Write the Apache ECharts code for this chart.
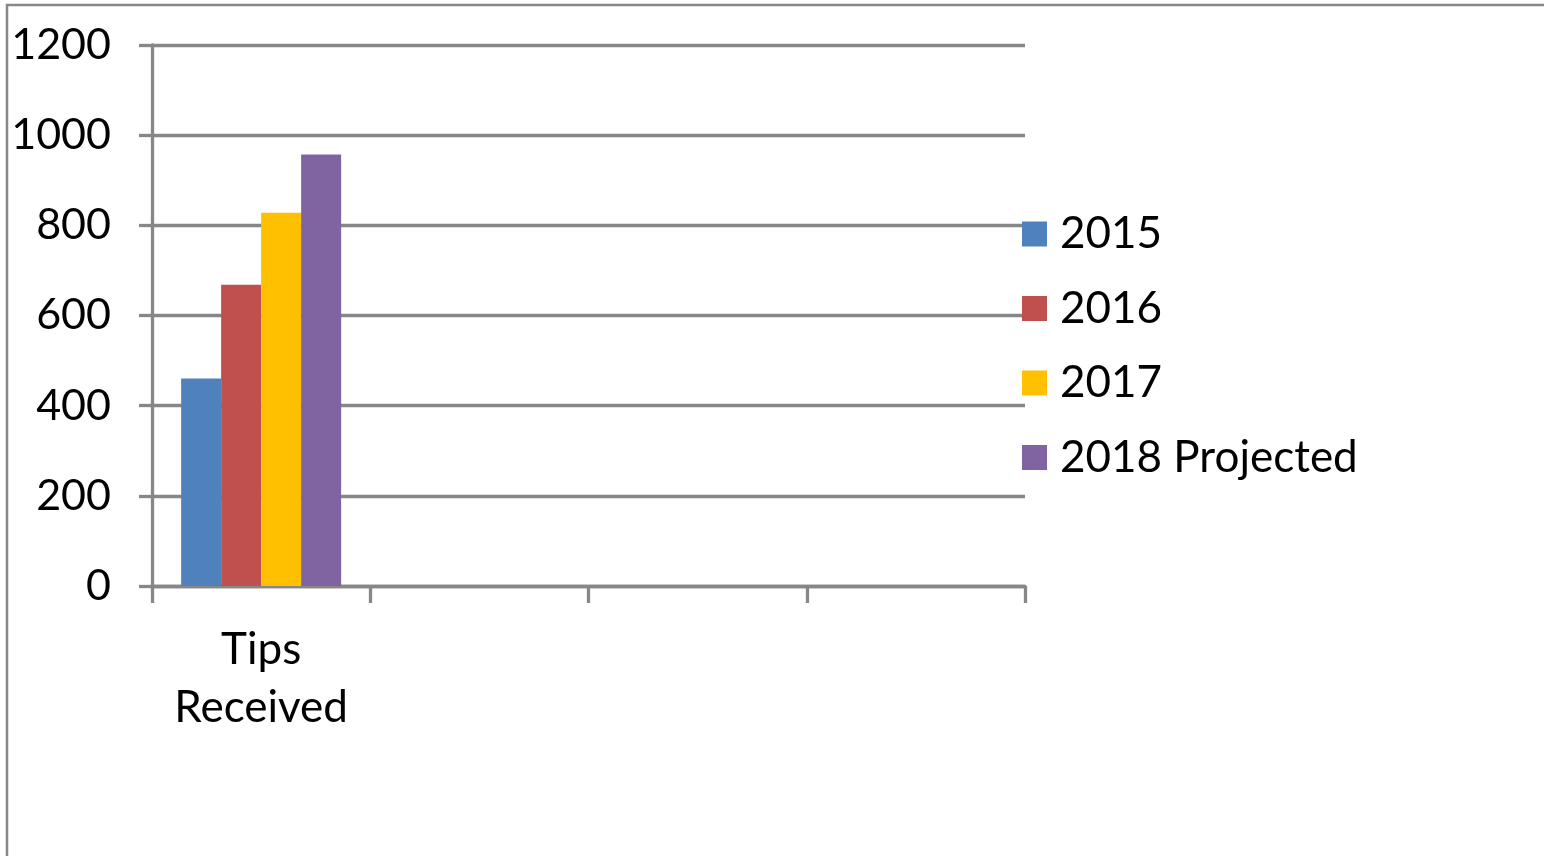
<!DOCTYPE html>
<html>
<head>
<meta charset="utf-8">
<script src="https://cdn.jsdelivr.net/npm/echarts@6/dist/echarts.min.js"></script>
<style>
html,body{margin:0;padding:0;background:#fff;}
#main{width:1544px;height:856px;}
</style>
</head>
<body>
<div id="main"></div>
<script>
const categories = ['Tips\nReceived', '', '', ''];
const seriesNames = ['2015', '2016', '2017', '2018 Projected'];
const values2015 = [460, null, null, null];
const values2016 = [668, null, null, null];
const values2017 = [828, null, null, null];
const values2018 = [957, null, null, null];
const colors = ['#4F81BD', '#C0504D', '#FFC000', '#8064A2'];
const yTicks = { min: 0, max: 1200, interval: 200 };

const seriesData = [values2015, values2016, values2017, values2018];
const fontFamily = 'Lato, "Open Sans", sans-serif';
const lineColor = '#878787';

const chart = echarts.init(document.getElementById('main'));
chart.setOption({
  animation: false,
  backgroundColor: '#fff',
  color: colors,
  graphic: [{
    type: 'rect',
    shape: { x: 7, y: 5, width: 1600, height: 900 },
    style: { fill: 'none', stroke: '#888', lineWidth: 2.5 },
    silent: true
  }],
  grid: { left: 152, top: 45, right: 519, bottom: 270, containLabel: false },
  legend: {
    orient: 'vertical',
    left: 1017,
    top: 207,
    itemWidth: 25,
    itemHeight: 25,
    itemGap: 30.5,
    icon: 'rect',
    data: seriesNames,
    textStyle: { fontFamily: fontFamily, fontSize: 44, color: '#000', lineHeight: 44, padding: [0, 0, 0, 8] }
  },
  xAxis: {
    type: 'category',
    data: categories,
    axisLine: { lineStyle: { color: lineColor, width: 3.3 } },
    axisTick: { show: true, length: 17, lineStyle: { color: lineColor, width: 3.3 }, alignWithLabel: false },
    axisLabel: { fontFamily: fontFamily, fontSize: 44, color: '#000', lineHeight: 58, margin: 35, interval: 0 },
    splitLine: { show: false }
  },
  yAxis: {
    type: 'value',
    min: yTicks.min,
    max: yTicks.max,
    interval: yTicks.interval,
    axisLine: { show: true, lineStyle: { color: lineColor, width: 3.3 } },
    axisTick: { show: true, length: 13, lineStyle: { color: lineColor, width: 3.3 } },
    axisLabel: { fontFamily: fontFamily, fontSize: 43, color: '#000', margin: 41, formatter: v => String(v) },
    splitLine: { show: true, lineStyle: { color: lineColor, width: 3.3 } }
  },
  series: seriesNames.map((name, i) => ({
    name: name,
    type: 'bar',
    data: seriesData[i],
    barWidth: 40,
    barGap: '0%',
    itemStyle: { color: colors[i] }
  }))
});
</script>
</body>
</html>
